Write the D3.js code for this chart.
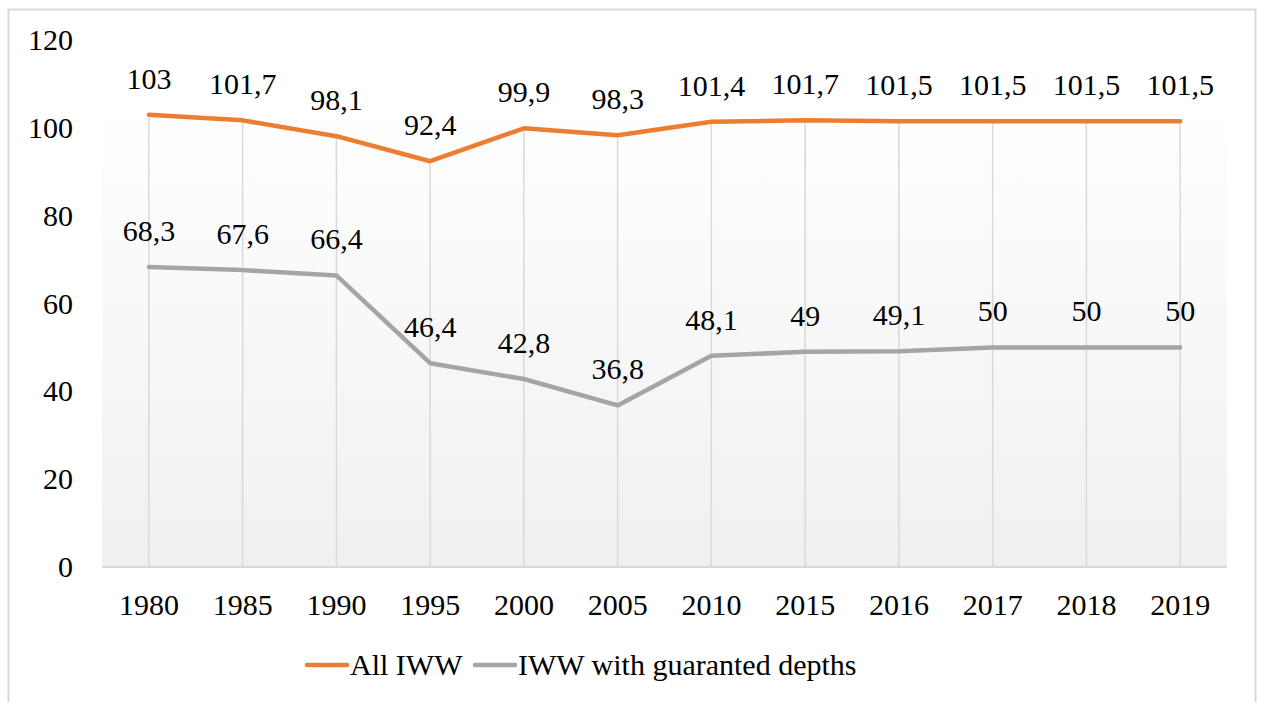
<!DOCTYPE html>
<html><head><meta charset="utf-8">
<script src="https://cdn.jsdelivr.net/npm/d3@7"></script>
<style>
@font-face { font-family: "ChartSerif"; src: local("Liberation Serif"), local("LiberationSerif"), local("Times New Roman"), local("Tinos"); }
body{margin:0}
</style>
</head><body>
<svg id="c" width="1261" height="702"></svg>
<script>
const years = ["1980","1985","1990","1995","2000","2005","2010","2015","2016","2017","2018","2019"];
const allIWW = [103,101.7,98.1,92.4,99.9,98.3,101.4,101.7,101.5,101.5,101.5,101.5];
const guaranteed = [68.3,67.6,66.4,46.4,42.8,36.8,48.1,49,49.1,50,50,50];
const seriesNames = ["All IWW","IWW with guaranted depths"];
const yTicks = [0,20,40,60,80,100,120];

const svg = d3.select("#c");
const fs = 30;
const x = d3.scaleBand().domain(years).range([102,1227]);
const y = d3.scaleLinear().domain([0,120]).range([567,40]);
const cx = d => x(d)+x.bandwidth()/2;
const fmt = v => String(v).replace(".",",");
function txt(sel){ return sel.attr("font-family","Times New Roman").attr("font-size",fs).attr("fill","#000"); }

// outer border
svg.append("rect").attr("x",8.5).attr("y",9.5).attr("width",1247).attr("height",710)
  .attr("fill","#fff").attr("stroke","#d9d9d9").attr("stroke-width",2);

// gradient plot area
const defs = svg.append("defs");
const g = defs.append("linearGradient").attr("id","pg").attr("x1",0).attr("y1",0).attr("x2",0).attr("y2",1);
g.append("stop").attr("offset","0%").attr("stop-color","#ffffff");
g.append("stop").attr("offset","12%").attr("stop-color","#ffffff");
g.append("stop").attr("offset","100%").attr("stop-color","#f0f0f0");
svg.append("rect").attr("x",102).attr("y",y(120)).attr("width",1125).attr("height",y(0)-y(120)).attr("fill","url(#pg)");

// drop lines
svg.append("g").selectAll("line").data(years).join("line")
  .attr("x1",d=>cx(d)).attr("x2",d=>cx(d))
  .attr("y1",(d,i)=>y(Math.max(allIWW[i],guaranteed[i]))).attr("y2",y(0))
  .attr("stroke","#d9d9d9").attr("stroke-width",1.5);

// baseline
svg.append("line").attr("x1",102).attr("x2",1227).attr("y1",y(0)).attr("y2",y(0))
  .attr("stroke","#d9d9d9").attr("stroke-width",2);

// y axis labels
txt(svg.append("g").selectAll("text").data(yTicks).join("text")
  .attr("x",73).attr("y",d=>y(d)+10).attr("text-anchor","end")).text(d=>d);

// x labels
txt(svg.append("g").selectAll("text").data(years).join("text")
  .attr("x",d=>cx(d)).attr("y",615).attr("text-anchor","middle")).text(d=>d);

const colors = ["#ED7D31","#A5A5A5"];
const data = [allIWW, guaranteed];
const line = d3.line().x((v,i)=>cx(years[i])).y(v=>y(v));
data.forEach((s,k)=>{
  svg.append("path").attr("d",line(s)).attr("fill","none").attr("stroke",colors[k])
    .attr("stroke-width",4.5).attr("stroke-linejoin","round").attr("stroke-linecap","round");
});
data.forEach((s,k)=>{
  txt(svg.append("g").selectAll("text").data(s).join("text")
    .attr("x",(v,i)=>cx(years[i])).attr("y",v=>y(v)-26).attr("text-anchor","middle")).text(v=>fmt(v));
});

// legend
const leg = [{x:307,name:seriesNames[0],c:colors[0]},{x:475,name:seriesNames[1],c:colors[1]}];
leg.forEach(l=>{
  svg.append("line").attr("x1",l.x).attr("x2",l.x+40).attr("y1",665).attr("y2",665)
    .attr("stroke",l.c).attr("stroke-width",4.5).attr("stroke-linecap","round");
  txt(svg.append("text").attr("x",l.x+43).attr("y",675)).text(l.name);
});
</script></body></html>
